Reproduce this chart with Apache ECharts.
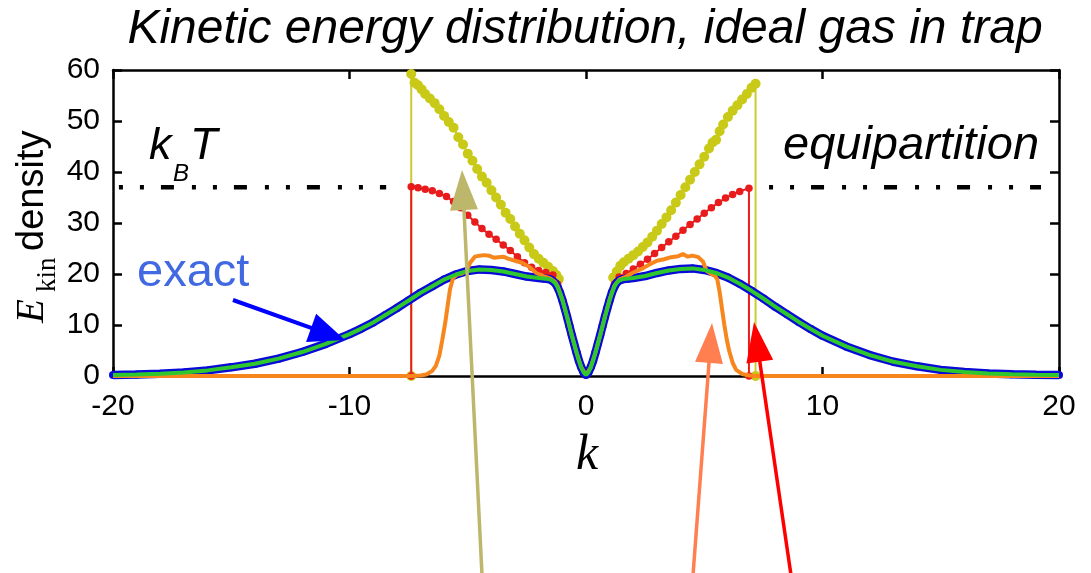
<!DOCTYPE html>
<html>
<head>
<meta charset="utf-8">
<script src="https://cdn.jsdelivr.net/npm/echarts@6/dist/echarts.min.js"></script>
<style>
html,body{margin:0;padding:0;background:#fff;}
#chart{width:1091px;height:573px;}
</style>
</head>
<body>
<div id="chart"></div>
<script>
// ---- Data ----
const xTicks = [-20, -10, 0, 10, 20];
const yTicks = [0, 10, 20, 30, 40, 50, 60];

// exact (blue) and smooth (green)
const kBlue = [-20,-19,-18,-17,-16,-15,-14,-13,-12,-11,-10,-9.5,-9,-8.5,-8,-7.5,-7,-6.5,-6,-5.5,-5,-4.5,-4,-3.5,-3,-2.5,-2,-1.8,-1.6,-1.5,-1.4,-1.3,-1.2,-1.1,-1,-0.9,-0.8,-0.7,-0.6,-0.5,-0.4,-0.3,-0.2,-0.1,0,0.1,0.2,0.3,0.4,0.5,0.6,0.7,0.8,0.9,1,1.1,1.2,1.3,1.4,1.5,1.6,1.8,2,2.5,3,3.5,4,4.5,5,5.5,6,6.5,7,7.5,8,8.5,9,9.5,10,11,12,13,14,15,16,17,18,19,20];
const eBlue = [0.2,0.3,0.45,0.7,1.1,1.7,2.4,3.4,4.7,6.3,8.2,9.3,10.5,11.9,13.3,14.8,16.3,17.6,18.9,19.9,20.6,20.9,20.8,20.5,20.0,19.5,19.2,19.1,19.0,18.9,18.6,18.2,17.4,16.3,14.9,13.3,11.6,9.8,8.0,6.3,4.6,3.0,1.7,0.7,0.2,0.7,1.7,3.0,4.6,6.3,8.0,9.8,11.6,13.3,14.9,16.4,17.5,18.3,18.7,18.9,19.0,19.1,19.2,19.6,20.2,20.7,21.0,21.1,20.8,20.2,19.3,18.1,16.7,15.2,13.6,12.1,10.6,9.2,7.9,5.8,4.1,2.8,1.9,1.2,0.8,0.5,0.35,0.25,0.2];
const eGreen = [0.2,0.3,0.45,0.7,1.1,1.7,2.4,3.4,4.7,6.3,8.2,9.3,10.5,11.9,13.3,14.8,16.3,17.6,18.9,19.9,20.6,20.9,20.8,20.5,20.0,19.5,19.2,19.1,19.0,18.9,18.6,18.2,17.4,16.3,14.9,13.3,11.6,9.8,8.0,6.3,4.6,3.0,1.7,0.7,0.2,0.7,1.7,3.0,4.6,6.3,8.0,9.8,11.6,13.3,14.9,16.4,17.5,18.3,18.7,18.9,19.0,19.1,19.2,19.6,20.2,20.7,21.0,21.1,20.8,20.2,19.3,18.1,16.7,15.2,13.6,12.1,10.6,9.2,7.9,5.8,4.1,2.8,1.9,1.2,0.8,0.5,0.35,0.25,0.2];

// red
const kRed = [-7.39,-7.39,-7.1,-6.8,-6.5,-6.2,-5.9,-5.6,-5.3,-5.0,-4.7,-4.4,-4.1,-3.8,-3.5,-3.2,-2.9,-2.6,-2.3,-2.0,-1.7,-1.4,-1.2,-1.0,-0.8,-0.6,-0.4,-0.2,0,0.2,0.4,0.6,0.8,1.0,1.2,1.4,1.7,2.0,2.3,2.6,2.9,3.2,3.5,3.8,4.1,4.4,4.7,5.0,5.3,5.6,5.9,6.2,6.5,6.89,6.89];
const eRed = [0,37.1,36.9,36.6,36.3,35.8,35.2,34.2,33.0,31.5,30.2,28.9,27.8,26.8,25.7,24.6,23.4,22.2,21.3,20.7,20.3,19.8,18.0,15.0,11.6,8.0,4.6,1.7,0.2,1.7,4.6,8.0,11.6,15.0,18.0,19.4,20.1,21.0,21.9,22.9,24.0,25.2,26.3,27.4,28.6,29.7,30.8,31.9,33.0,34.0,34.9,35.6,36.2,36.8,0];

// yellow (left and right branches)
const kYelL = [-7.39,-7.39,-7.25,-7.1,-6.95,-6.8,-6.6,-6.4,-6.2,-6.0,-5.8,-5.6,-5.4,-5.2,-5.0,-4.8,-4.6,-4.4,-4.2,-4.0,-3.8,-3.6,-3.4,-3.2,-3.0,-2.8,-2.6,-2.4,-2.2,-2.0,-1.8,-1.6,-1.4,-1.25,-1.15];
const eYelL = [0,59.2,57.5,57.0,56.2,55.3,54.4,53.5,52.3,51.0,49.8,48.7,46.8,45.4,43.6,42.2,40.6,39.1,37.9,36.4,35.0,33.6,32.0,30.8,29.3,27.9,26.6,25.2,23.9,23.0,22.2,21.4,20.6,19.8,19.0];
const kYelR = [1.15,1.3,1.45,1.6,1.8,2.0,2.2,2.4,2.6,2.8,3.0,3.2,3.4,3.6,3.8,4.0,4.2,4.4,4.6,4.8,5.0,5.2,5.35,5.5,5.65,5.8,6.0,6.2,6.4,6.6,6.8,7.0,7.17,7.17];
const eYelR = [19.3,20.5,21.6,22.3,23.0,23.7,24.4,25.3,26.2,27.3,28.5,29.8,31.1,32.5,34.0,35.5,37.0,38.5,40.0,41.5,43.0,44.6,45.8,46.3,48.0,49.3,50.8,52.0,53.1,54.2,55.3,56.5,57.3,0];

// orange
const kOr = [-20,-7.4,-7.0,-6.75,-6.5,-6.35,-6.2,-6.08,-5.95,-5.85,-5.75,-5.62,-5.45,-5.25,-5.05,-4.9,-4.7,-4.5,-4.3,-4.1,-3.9,-3.7,-3.5,-3.3,-3.0,-2.7,-2.4,-2.1,-1.8,-1.5,-1.3,-1.2,-1.0,-0.8,-0.6,-0.4,-0.2,0,0.2,0.4,0.6,0.8,1.0,1.2,1.4,1.7,2.0,2.4,2.7,3.0,3.3,3.6,3.9,4.1,4.3,4.5,4.75,4.95,5.1,5.3,5.45,5.55,5.65,5.75,5.85,5.95,6.05,6.2,6.35,6.6,6.9,7.3,20];
const eOr = [0,0,0.1,0.3,1.0,2.0,4.0,7.0,10.5,13.8,17.0,19.2,19.9,20.1,20.6,22.2,23.4,23.6,23.7,23.6,23.2,23.3,23.4,23.0,22.6,22.2,21.4,20.2,19.6,19.1,18.4,17.6,15.0,11.6,8.0,4.6,1.7,0.2,1.7,4.6,8.0,11.6,15.0,17.7,18.9,19.5,20.3,21.1,21.9,22.6,22.9,23.3,23.5,23.9,23.4,23.6,23.3,22.4,20.6,20.0,19.6,19.0,16.5,13.2,10.0,7.2,5.0,2.6,1.2,0.4,0.1,0,0];

// k_B T (equipartition) level
const kbtLeftK = [-19.75, -8.45];
const kbtRightK = [7.74, 19.24];
const kbtLevel = 37;

// ---- Build ----
const zip = (ks, vs) => ks.map((k, i) => [k, vs[i]]);
const FONT = 'Liberation Sans, Arial, sans-serif';
const SERIF = 'Liberation Serif, Times New Roman, serif';

const chart = echarts.init(document.getElementById('chart'), null, {renderer: 'canvas'});

function arrow(tail, tip, hl, hw, color, lw) {
  const dx = tip[0] - tail[0], dy = tip[1] - tail[1];
  const L = Math.hypot(dx, dy), ux = dx / L, uy = dy / L;
  const bx = tip[0] - ux * hl, by = tip[1] - uy * hl;
  const px = -uy, py = ux;
  return [
    {type: 'line', z: 100, shape: {x1: tail[0], y1: tail[1], x2: bx + ux * 3, y2: by + uy * 3},
     style: {stroke: color, lineWidth: lw}},
    {type: 'polygon', z: 100, shape: {points: [[tip[0], tip[1]], [bx + px * hw / 2, by + py * hw / 2], [bx - px * hw / 2, by - py * hw / 2]]},
     style: {fill: color}}
  ];
}

const axisCommon = {
  type: 'value',
  splitLine: {show: false},
  axisLine: {show: true, onZero: false, lineStyle: {color: '#000', width: 2.5}},
  axisTick: {show: true, inside: true, length: 9, lineStyle: {color: '#000', width: 2.5}},
};

const texts = [
  {type: 'text', z: 100, x: 585, y: 30, style: {text: 'Kinetic energy distribution, ideal gas in trap', fontSize: 48, fontFamily: FONT, fontStyle: 'italic', fill: '#000', align: 'center', verticalAlign: 'middle'}},
  {type: 'text', z: 100, x: 149, y: 146, style: {text: 'k', fontSize: 45, fontFamily: FONT, fontStyle: 'italic', fill: '#000', align: 'left', verticalAlign: 'middle'}},
  {type: 'text', z: 100, x: 173, y: 174, style: {text: 'B', fontSize: 24, fontFamily: FONT, fontStyle: 'italic', fill: '#000', align: 'left', verticalAlign: 'middle'}},
  {type: 'text', z: 100, x: 190, y: 146, style: {text: 'T', fontSize: 45, fontFamily: FONT, fontStyle: 'italic', fill: '#000', align: 'left', verticalAlign: 'middle'}},
  {type: 'text', z: 100, x: 783, y: 146, style: {text: 'equipartition', fontSize: 47, fontFamily: FONT, fontStyle: 'italic', fill: '#000', align: 'left', verticalAlign: 'middle'}},
  {type: 'text', z: 100, x: 137, y: 273, style: {text: 'exact', fontSize: 47, fontFamily: FONT, fill: '#4169e1', align: 'left', verticalAlign: 'middle'}},
  {type: 'text', z: 100, x: 587, y: 456, style: {text: 'k', fontSize: 50, fontFamily: SERIF, fontStyle: 'italic', fill: '#000', align: 'center', verticalAlign: 'middle'}},
  {type: 'group', x: 45, y: 323, rotation: Math.PI / 2, z: 100, children: [
    {type: 'text', x: 0, y: -12, style: {text: 'E', fontSize: 39, fontFamily: SERIF, fontStyle: 'italic', fill: '#000', align: 'left', verticalAlign: 'middle'}},
    {type: 'text', x: 31, y: 3, style: {text: 'kin', fontSize: 27, fontFamily: SERIF, fill: '#000', align: 'left', verticalAlign: 'middle'}},
    {type: 'text', x: 72, y: -12, style: {text: 'density', fontSize: 38, fontFamily: FONT, fill: '#000', align: 'left', verticalAlign: 'middle'}}
  ]}
];

const arrows = [].concat(
  arrow([233, 300], [345, 340], 36, 30, '#0000ff', 4),
  arrow([482, 575], [462, 170], 40, 28, '#bdb76b', 3.5),
  arrow([693, 575], [712, 323], 40, 28, '#ff7f50', 3.5),
  arrow([791, 575], [754, 322], 40, 27, '#ff0000', 3.5)
);

const option = {
  animation: false,
  backgroundColor: '#fff',
  grid: {left: 113, right: 32, top: 70, bottom: 197, containLabel: false},
  xAxis: [
    Object.assign({}, axisCommon, {position: 'bottom', min: xTicks[0], max: xTicks[xTicks.length - 1], interval: 10,
      axisLabel: {show: true, margin: 16, color: '#000', fontSize: 30, fontFamily: FONT}}),
    Object.assign({}, axisCommon, {position: 'top', min: xTicks[0], max: xTicks[xTicks.length - 1], interval: 10,
      axisLabel: {show: false}})
  ],
  yAxis: [
    Object.assign({}, axisCommon, {position: 'left', min: yTicks[0], max: yTicks[yTicks.length - 1], interval: 10,
      axisLabel: {show: true, margin: 13, color: '#000', fontSize: 30, fontFamily: FONT}}),
    Object.assign({}, axisCommon, {position: 'right', min: yTicks[0], max: yTicks[yTicks.length - 1], interval: 10,
      axisLabel: {show: false}})
  ],
  series: [
    {type: 'line', name: 'kBT left', z: 2, data: kbtLeftK.map(k => [k, kbtLevel]), symbol: 'none', clip: false,
      lineStyle: {color: '#000', width: 4.5, type: [4, 17, 4, 17, 13, 18], cap: 'butt'}},
    {type: 'line', name: 'kBT right', z: 2, data: kbtRightK.map(k => [k, kbtLevel]), symbol: 'none', clip: false,
      lineStyle: {color: '#000', width: 4.5, type: [4, 17, 4, 17, 13, 18], cap: 'butt'}},
    {type: 'line', name: 'yellow L', z: 2, data: zip(kYelL, eYelL), symbol: 'circle', symbolSize: 10, clip: false,
      itemStyle: {color: '#c9c918'}, lineStyle: {color: '#cccc30', width: 2}},
    {type: 'line', name: 'yellow R', z: 2, data: zip(kYelR, eYelR), symbol: 'circle', symbolSize: 10, clip: false,
      itemStyle: {color: '#c9c918'}, lineStyle: {color: '#cccc30', width: 2}},
    {type: 'line', name: 'red', z: 3, data: zip(kRed, eRed), symbol: 'circle', symbolSize: 7.5, clip: false,
      itemStyle: {color: '#e81c1c'}, lineStyle: {color: '#e81c1c', width: 2}},
    {type: 'line', name: 'exact', z: 4, data: zip(kBlue, eBlue), symbol: 'circle', symbolSize: 8, clip: false,
      itemStyle: {color: '#0a0ad8'}, lineStyle: {color: '#0a0ad8', width: 8.5}},
    {type: 'line', name: 'orange', z: 5, data: zip(kOr, eOr), symbol: 'none', clip: false,
      lineStyle: {color: '#f7861c', width: 4}},
    {type: 'line', name: 'green', z: 6, data: zip(kBlue, eGreen), symbol: 'none', clip: false,
      lineStyle: {color: '#2ec82e', width: 4}}
  ],
  graphic: texts.concat(arrows)
};
chart.setOption(option);
</script>
</body>
</html>
